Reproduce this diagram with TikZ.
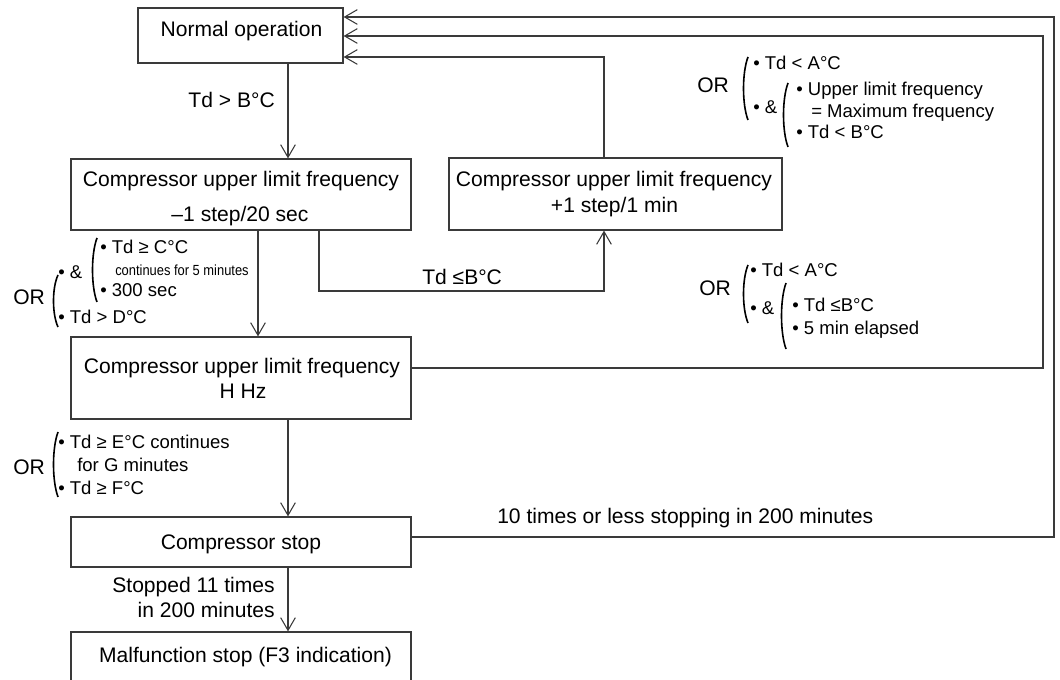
\documentclass[tikz,border=0pt]{standalone}
\usepackage{fontspec}
\setmainfont{Liberation Sans}
\usetikzlibrary{arrows.meta}
\definecolor{lc}{HTML}{3A3A3A}
\newcommand\mf{\fontsize{15.8pt}{19pt}\selectfont}
\newcommand\lf{\fontsize{13.9pt}{17pt}\selectfont}
\newcommand\smf{\fontsize{11pt}{13pt}\selectfont}
\newcommand\bigparen[3]{\draw[paren] ({#1+5},#2) .. controls ({#1-1},{#2+(#3-#2)*0.25}) and ({#1-1},{#3-(#3-#2)*0.25}) .. ({#1+5},#3);}
\begin{document}
\begin{tikzpicture}[x=0.75pt,y=-0.75pt,
  box/.style={draw=lc,line width=0.9pt,inner sep=0pt},
  m/.style={font=\mf,inner sep=0pt,text height=11.3pt,text depth=0pt},
  l/.style={font=\lf,inner sep=0pt,text height=9.95pt,text depth=0pt,anchor=west},
  arr/.style={draw=lc,line width=0.8pt,-{Straight Barb[length=9.5pt,width=11pt]}},
  paren/.style={draw=black,line width=1.2pt}]
\useasboundingbox (0,0) rectangle (1060,680);
\clip (0,0) rectangle (1060,680);

% boxes
\node[box,minimum width=153.75pt,minimum height=41.25pt] (normal) at (240.5,35.5) {};
\node[m] (normaltxt) at (241.5,29) {Normal operation};

\node[box,minimum width=255pt,minimum height=53.25pt] (minus) at (241,194.5) {};
\node[m] (minus1) at (241,179) {Compressor upper limit frequency};
\node[m] (minus2) at (240,214) {–1 step/20 sec};

\node[box,minimum width=249.75pt,minimum height=54pt] (plus) at (615.5,194) {};
\node[m] (plus1) at (614,179) {Compressor upper limit frequency};
\node[m] (plus2) at (614.5,205) {+1 step/1 min};

\node[box,minimum width=255pt,minimum height=61.5pt] (hhz) at (241,378) {};
\node[m] (hhz1) at (242,366) {Compressor upper limit frequency};
\node[m] (hhz2) at (243,391) {H Hz};

\node[box,minimum width=255pt,minimum height=37.5pt] (stop) at (241,542) {};
\node[m] (stoptxt) at (241,542) {Compressor stop};

\node[box,minimum width=255pt,minimum height=51pt] (malf) at (241,666) {};
\node[m] (malftxt) at (245.5,655) {Malfunction stop (F3 indication)};

% helper coordinates
\coordinate (x288) at (288,0);
\coordinate (x258) at (258,0);
\coordinate (x319) at (319,291);
\coordinate (low) at (604,291);
\coordinate (out1) at (1054,17);
\coordinate (out2) at (1043,36);
\coordinate (out3) at (604,57);

% connectors
\draw[arr] (normal.south -| x288) -- (minus.north -| x288);
\draw[arr] (minus.south -| x258) -- (hhz.north -| x258);
\draw[arr] (minus.south -| x319) -- (x319) -- (low) -- (plus.south -| low);
\draw[arr] (plus.north -| out3) -- (out3) -- (normal.east |- out3);
\draw[arr] ([yshift=7.5pt]hhz.east) -| (out2) -- (normal.east |- out2);
\draw[arr] ([yshift=3.75pt]stop.east) -| (out1) -- (normal.east |- out1);
\draw[arr] (hhz.south -| x288) -- (stop.north -| x288);
\draw[arr] (stop.south -| x288) -- (malf.north -| x288);

% connector labels
\node[m,anchor=east] (lab1) at (275,100) {Td > B°C};
\node[m,anchor=west] (lab2) at (422,277) {Td ≤B°C};
\node[m,anchor=west] (lab3) at (497,516) {10 times or less stopping in 200 minutes};
\node[m,anchor=east] (lab4) at (275,585) {Stopped 11 times};
\node[m,anchor=east] (lab5) at (275,610) {in 200 minutes};

% top-right condition
\node[m,anchor=west] (or1) at (697,85) {OR};
\bigparen{743}{57}{120}
\node[l] (c1a) at (753,63) {• Td < A°C};
\node[l] (c1b) at (753,107) {• \&};
\bigparen{783}{83}{147}
\node[l] (c1c) at (796,89) {• Upper limit frequency};
\node[l] (c1d) at (811,111) {= Maximum frequency};
\node[l] (c1e) at (796,132) {• Td < B°C};

% middle-right condition
\node[m,anchor=west] (or2) at (699,288) {OR};
\bigparen{743}{265}{323}
\node[l] (c2a) at (750,270) {• Td < A°C};
\node[l] (c2b) at (750,308) {• \&};
\bigparen{781}{283}{349}
\node[l] (c2c) at (792,305) {• Td ≤B°C};
\node[l] (c2d) at (792,328) {• 5 min elapsed};

% left-middle condition
\node[m,anchor=west] (or3) at (13,297) {OR};
\bigparen{53}{275}{327}
\node[l] (c3a) at (58,272) {• \&};
\bigparen{92}{238}{302}
\node[l] (c3b) at (100,247) {• Td ≥ C°C};
\node[font=\smf,inner sep=0pt,text height=7.9pt,text depth=0pt,anchor=west] (c3c) at (115,270) {\scalebox{0.88}[1]{continues for 5 minutes}};
\node[l] (c3d) at (100,290) {• 300 sec};
\node[l] (c3e) at (58,317) {• Td > D°C};

% bottom-left condition
\node[m,anchor=west] (or4) at (13,467) {OR};
\bigparen{53}{432}{497}
\node[l] (c4a) at (58,442) {• Td ≥ E°C continues};
\node[l] (c4b) at (77,465) {for G minutes};
\node[l] (c4c) at (58,488) {• Td ≥ F°C};
\end{tikzpicture}
\end{document}
